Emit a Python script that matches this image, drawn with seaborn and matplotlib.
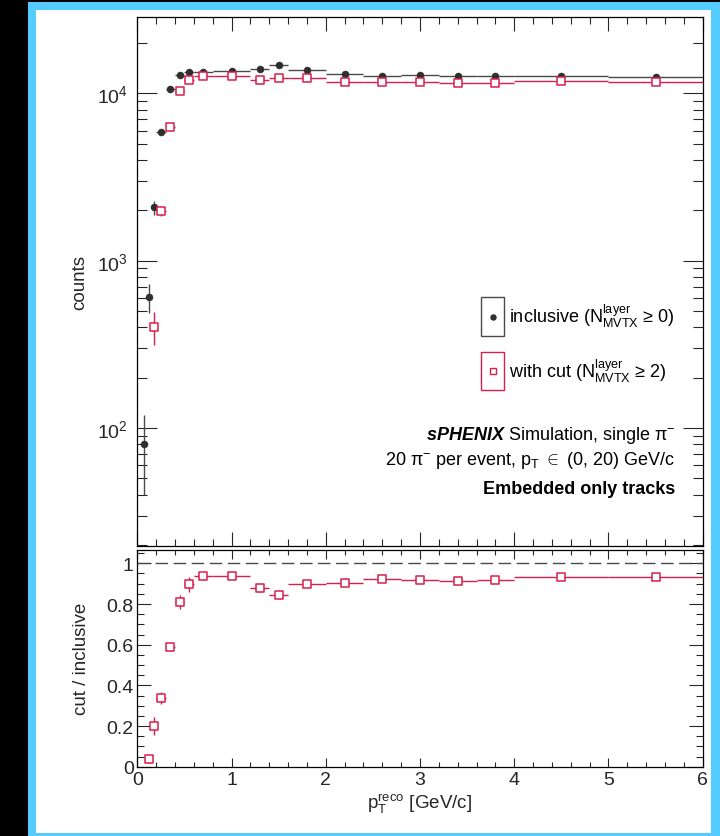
import numpy as np
import pandas as pd
import matplotlib
matplotlib.use("Agg")
import matplotlib.pyplot as plt
import seaborn as sns
from matplotlib.patches import Rectangle
from matplotlib.lines import Line2D
from matplotlib.ticker import MultipleLocator, LogLocator, FuncFormatter, NullFormatter

# ---------------- data ----------------
bin_edges = [0.05, 0.10, 0.15, 0.20, 0.30, 0.40, 0.50, 0.60, 0.80, 1.20, 1.40,
             1.60, 2.00, 2.40, 2.80, 3.20, 3.60, 4.00, 5.00, 6.00]
inclusive = [80, 610, 2080, 5850, 10600, 12850, 13450, 13450, 13700, 14050,
             14850, 13750, 13050, 12750, 12850, 12750, 12750, 12750, 12550]
inclusive_err = [40, 120, 200, 240, 250, 250, 250, 200, 150, 200,
                 200, 150, 150, 150, 150, 150, 150, 100, 100]
with_cut = [np.nan, 15, 403, 1975, 6270, 10280, 11960, 12640, 12740, 12050,
            12290, 12290, 11680, 11680, 11680, 11520, 11520, 11850, 11730]
with_cut_err = [np.nan, 3, 90, 120, 150, 200, 200, 200, 150, 200,
                200, 150, 150, 150, 150, 150, 150, 100, 100]
ratio = [np.nan, 0.036, 0.199, 0.338, 0.590, 0.811, 0.897, 0.9375, 0.9375, 0.877,
         0.843, 0.897, 0.905, 0.923, 0.920, 0.915, 0.918, 0.931, 0.931]
ratio_err = [np.nan, 0.02, 0.045, 0.028, 0.02, 0.035, 0.037, 0.02, 0.01, 0.02,
             0.02, 0.01, 0.01, 0.01, 0.01, 0.01, 0.01, 0.01, 0.01]

ratio_ticks = [0, 0.2, 0.4, 0.6, 0.8, 1.0]
x_ticks = [0, 1, 2, 3, 4, 5, 6]

edges = np.array(bin_edges)
centers = 0.5 * (edges[:-1] + edges[1:])
halfw = 0.5 * (edges[1:] - edges[:-1])
df = pd.DataFrame({"pt": centers, "halfw": halfw,
                   "incl": inclusive, "incl_err": inclusive_err,
                   "cut": with_cut, "cut_err": with_cut_err,
                   "ratio": ratio, "ratio_err": ratio_err})

# ---------------- style ----------------
sns.set_theme(style="ticks")
plt.rcParams["font.family"] = ["Liberation Sans", "DejaVu Sans"]
plt.rcParams["mathtext.fontset"] = "custom"
plt.rcParams["mathtext.rm"] = "Liberation Sans"
plt.rcParams["mathtext.it"] = "Liberation Sans:italic"
plt.rcParams["mathtext.bf"] = "Liberation Sans:bold"
plt.rcParams["mathtext.bfit"] = "Liberation Sans:italic:bold"
plt.rcParams["mathtext.sf"] = "Liberation Sans"

BLACK = "#2e2e2e"
LINE_BLACK = "#4a4a4a"
RED = "#d81e4c"
BLUE = "#55ccff"

W, H = 720, 837
fig = plt.figure(figsize=(W / 100, H / 100), dpi=100)
fig.patch.set_facecolor("black")

def fr(x0, y0, x1, y1):
    return [x0 / W, 1 - y1 / H, (x1 - x0) / W, (y1 - y0) / H]

# background frame (pixel coordinates)
bg = fig.add_axes([0, 0, 1, 1], zorder=-1)
bg.set_xlim(0, W)
bg.set_ylim(H, 0)
bg.axis("off")
bg.add_patch(Rectangle((28, 2.7), W - 28, H - 2.7, color=BLUE, lw=0))
bg.add_patch(Rectangle((36, 10.7), 674.7, 823.6, color="white", lw=0))

ax1 = fig.add_axes(fr(137.3, 18.3, 702.7, 546.7))
ax2 = fig.add_axes(fr(137.3, 550.7, 702.7, 767.7))
for ax in (ax1, ax2):
    ax.set_facecolor("none")
    for s in ax.spines.values():
        s.set_color("black")
        s.set_linewidth(0.9)

# ---------------- top panel ----------------
ax1.set_yscale("log")
ax1.errorbar(df["pt"], df["incl"], xerr=df["halfw"], yerr=df["incl_err"],
             fmt="none", ecolor=LINE_BLACK, elinewidth=1.0, capsize=0, zorder=2)
ax1.errorbar(df["pt"], df["cut"], xerr=df["halfw"], yerr=df["cut_err"],
             fmt="none", ecolor=RED, elinewidth=1.0, capsize=0, zorder=2)
sns.scatterplot(data=df, x="pt", y="incl", ax=ax1, marker="o", s=26,
                color=BLACK, edgecolor=BLACK, linewidth=0.3, zorder=3)
sns.scatterplot(data=df, x="pt", y="cut", ax=ax1, marker="s", s=30,
                facecolor="white", edgecolor=RED, linewidth=1.1, zorder=4)
ax1.set_xlim(0, 6)
ax1.set_ylim(19.8, 28500)
ax1.set_xlabel("")
ax1.set_ylabel("counts", fontsize=13.5)
ax1.yaxis.set_label_coords((88 - 137.3) / 565.4, 0.5)
ax1.xaxis.set_major_locator(MultipleLocator(1))
ax1.xaxis.set_minor_locator(MultipleLocator(0.2))
ax1.yaxis.set_major_locator(LogLocator(base=10, numticks=10))
ax1.yaxis.set_minor_locator(LogLocator(base=10, subs=np.arange(2, 10), numticks=20))
ax1.yaxis.set_minor_formatter(NullFormatter())
ax1.tick_params(axis="x", which="major", direction="in", length=10, width=0.8,
                top=True, bottom=True, labelbottom=False)
ax1.tick_params(axis="x", which="minor", direction="in", length=5, width=0.8,
                top=True, bottom=True)
ax1.tick_params(axis="y", which="major", direction="in", length=14.4, width=0.8,
                left=True, right=True, labelsize=14, pad=7)
ax1.tick_params(axis="y", which="minor", direction="in", length=7.2, width=0.8,
                left=True, right=True)

# ---------------- ratio panel ----------------
ax2.axhline(1.0, color=LINE_BLACK, lw=1.0, ls=(0, (9, 4)), zorder=1)
ax2.errorbar(df["pt"], df["ratio"], xerr=df["halfw"], yerr=df["ratio_err"],
             fmt="none", ecolor=RED, elinewidth=1.0, capsize=0, zorder=2)
sns.scatterplot(data=df, x="pt", y="ratio", ax=ax2, marker="s", s=30,
                facecolor="white", edgecolor=RED, linewidth=1.1, zorder=4)
ax2.set_xlim(0, 6)
ax2.set_ylim(0, 1.067)
ax2.set_xticks(x_ticks)
ax2.set_yticks(ratio_ticks)
ax2.xaxis.set_minor_locator(MultipleLocator(0.2))
ax2.yaxis.set_minor_locator(MultipleLocator(0.05))
ax2.yaxis.set_major_formatter(FuncFormatter(lambda v, p: f"{v:g}"))
ax2.xaxis.set_major_formatter(FuncFormatter(lambda v, p: f"{v:g}"))
ax2.tick_params(axis="x", which="major", direction="in", length=6.8, width=0.8,
                top=True, bottom=True, labelsize=14, pad=3)
ax2.tick_params(axis="x", which="minor", direction="in", length=3.6, width=0.8,
                top=True, bottom=True)
ax2.tick_params(axis="y", which="major", direction="in", length=10, width=0.8,
                left=True, right=True, labelsize=14, pad=2.5)
ax2.tick_params(axis="y", which="minor", direction="in", length=5, width=0.8,
                left=True, right=True)
ax2.set_ylabel("cut / inclusive", fontsize=13.5)
ax2.yaxis.set_label_coords((90 - 137.3) / 565.4, 0.5)
ax2.set_xlabel(r"$\mathrm{p}_{\mathrm{T}}^{\mathrm{reco}}$ [GeV/c]", fontsize=13.5)
ax2.xaxis.set_label_coords(0.5, -(792 - 767.7) / 217.0)

# ---------------- legend (pixel coords) ----------------
bg.add_patch(Rectangle((480.7, 298.3), 23.6, 38.4, fill=False, ec=LINE_BLACK, lw=1.0, zorder=5))
bg.add_patch(Rectangle((480.7, 353.3), 23.6, 37.7, fill=False, ec=RED, lw=1.0, zorder=5))
bg.add_line(Line2D([492.5], [317.7], marker="o", ms=3.6, color=BLACK, mec=BLACK, zorder=6))
bg.add_line(Line2D([492.5], [372.3], marker="s", ms=5.0, mfc="white", mec=RED, mew=1.0, zorder=6))
bg.text(509.3, 323.3, r"inclusive ($\mathrm{N}^{\mathrm{layer}}_{\mathrm{MVTX}}$ ≥ 0)",
        fontsize=13, ha="left", va="baseline", color="black", zorder=6)
bg.text(509.3, 377.7, r"with cut ($\mathrm{N}^{\mathrm{layer}}_{\mathrm{MVTX}}$ ≥ 2)",
        fontsize=13, ha="left", va="baseline", color="black", zorder=6)

# ---------------- annotation ----------------
bg.text(675, 440, r"$\mathbfit{sPHENIX}$ Simulation, single $\mathrm{\pi}^{-}$",
        fontsize=13, ha="right", va="baseline", color="black", zorder=6)
bg.text(675, 465, r"20 $\mathrm{\pi}^{-}$ per event, $\mathrm{p}_{\mathrm{T}}$ $\in$ (0, 20) GeV/c",
        fontsize=13, ha="right", va="baseline", color="black", zorder=6)
bg.text(675, 494.3, "Embedded only tracks", fontsize=13, fontweight="bold",
        ha="right", va="baseline", color="black", zorder=6)

fig.savefig("out.png", dpi=100, facecolor=fig.get_facecolor())
